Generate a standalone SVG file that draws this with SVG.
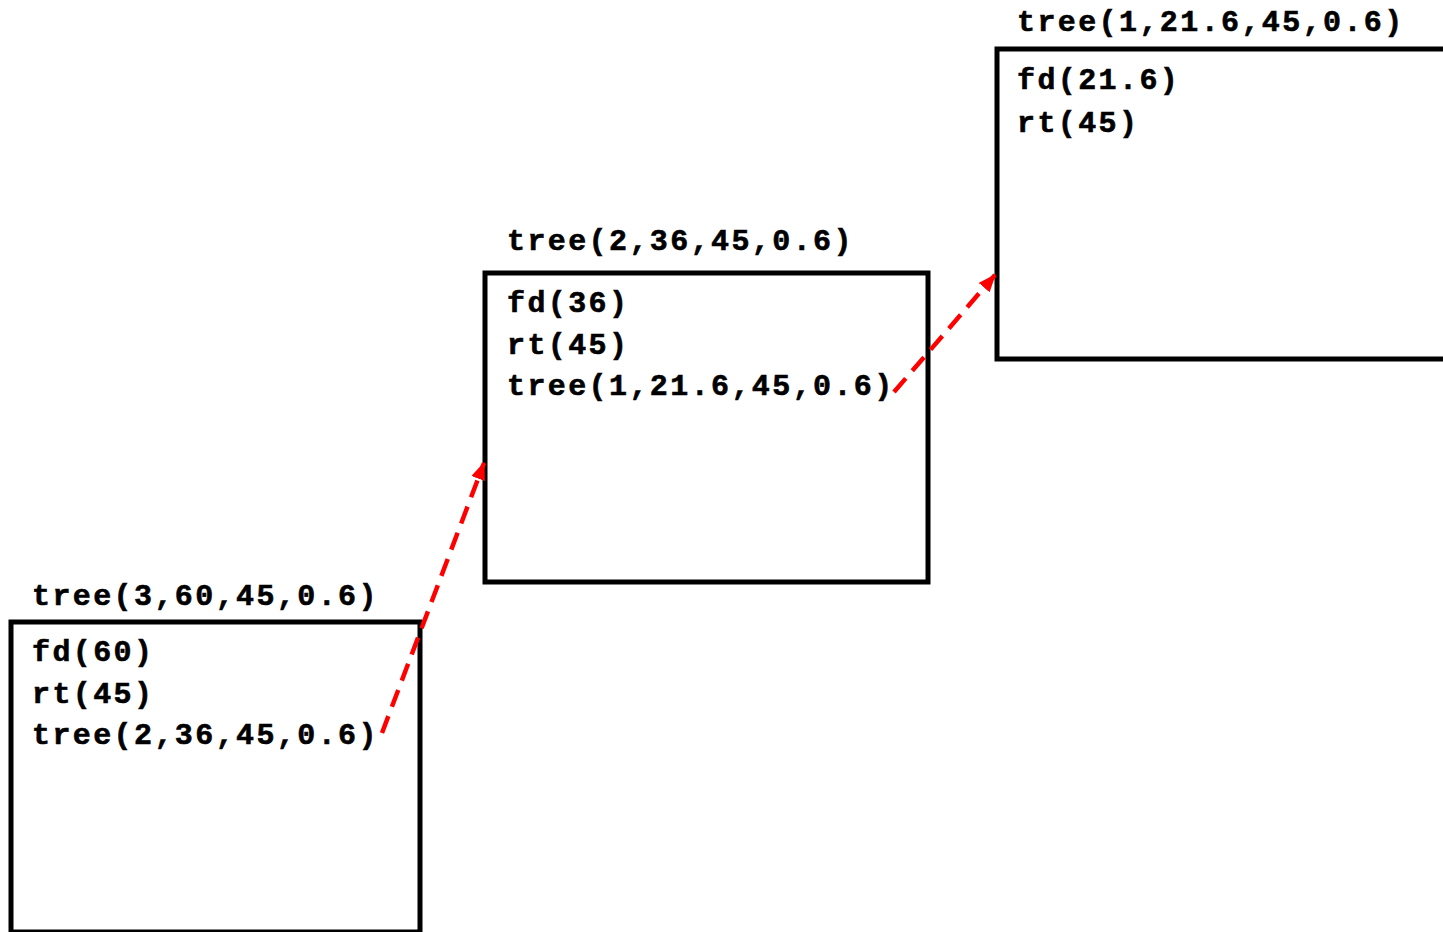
<svg xmlns="http://www.w3.org/2000/svg" width="1443" height="932" viewBox="0 0 1443 932">
  <style>
    .frame { fill: none; stroke: #000; stroke-width: 5; }
    .code { font-family: "Liberation Mono", "Courier New", monospace; font-weight: bold; font-size: 30px; letter-spacing: 2.4px; fill: #000; stroke: #000; stroke-width: 0.6px; }
    .call { fill: none; stroke: #ff0000; stroke-width: 4.5; stroke-dasharray: 18 10; }
  </style>
  <defs>
    <marker id="head" markerWidth="4" markerHeight="3.2" refX="3.7" refY="1.6" orient="auto" markerUnits="strokeWidth">
      <path d="M0,0 L4,1.6 L0,3.2 Z" fill="#ff0000"/>
    </marker>
  </defs>
  <rect width="1443" height="932" fill="#fff"/>

  <!-- depth 3 call frame -->
  <g id="frame-tree3">
    <text class="code" x="32" y="605">tree(3,60,45,0.6)</text>
    <rect class="frame" x="11" y="622" width="409" height="310"/>
    <text class="code" x="32" y="661">fd(60)</text>
    <text class="code" x="32" y="703">rt(45)</text>
    <text class="code" x="32" y="744">tree(2,36,45,0.6)</text>
  </g>

  <!-- depth 2 call frame -->
  <g id="frame-tree2">
    <text class="code" x="507" y="250">tree(2,36,45,0.6)</text>
    <rect class="frame" x="485" y="273" width="443" height="309"/>
    <text class="code" x="507" y="312">fd(36)</text>
    <text class="code" x="507" y="354">rt(45)</text>
    <text class="code" x="507" y="395">tree(1,21.6,45,0.6)</text>
  </g>

  <!-- depth 1 call frame -->
  <g id="frame-tree1">
    <text class="code" x="1017" y="31">tree(1,21.6,45,0.6)</text>
    <rect class="frame" x="997" y="49" width="470" height="310"/>
    <text class="code" x="1017" y="89">fd(21.6)</text>
    <text class="code" x="1017" y="132">rt(45)</text>
  </g>

  <!-- recursive call arrows -->
  <g id="connectors">
    <line class="call" x1="382" y1="733" x2="484" y2="463" marker-end="url(#head)"/>
    <line class="call" x1="894" y1="392" x2="995" y2="275" marker-end="url(#head)"/>
  </g>
</svg>
